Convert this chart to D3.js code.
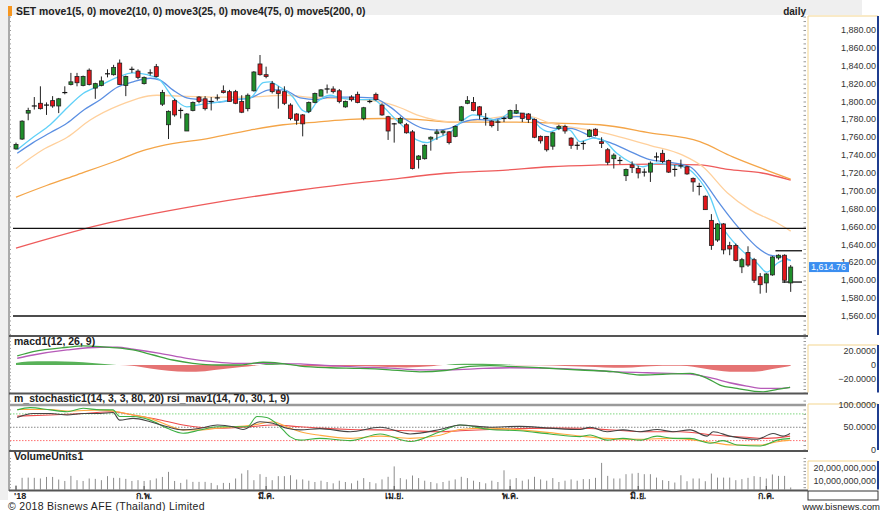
<!DOCTYPE html>
<html>
<head>
<meta charset="utf-8">
<script src="https://cdn.jsdelivr.net/npm/d3@7"></script>
<style>
    body { margin: 0; background: #fff; }
    svg { display: block; font-family: "Liberation Sans", Arial, sans-serif; }
</style>
</head>
<body>
<div id="chart"></div>
<script>
// daily candles, [open, high, low, close]
const ohlc = [
    [1747,1754,1746,1752],[1758,1779,1757,1778],[1787,1793,1779,1790],[1794,1805,1791,1795],[1798,1817,1791,1792],
    [1795,1799,1785,1796],[1801,1806,1793,1795],[1795,1804,1787,1803],[1809,1817,1808,1810],[1819,1832,1818,1822],
    [1828,1832,1817,1821],[1818,1829,1817,1828],[1835,1837,1818,1819],[1815,1821,1803,1820],[1818,1828,1817,1823],
    [1830,1836,1827,1831],[1830,1841,1829,1838],[1843,1847,1819,1819],[1818,1829,1806,1828],[1835,1839,1832,1836],
    [1834,1836,1825,1827],[1820,1828,1819,1827],[1831,1836,1829,1832],[1839,1842,1827,1828],[1797,1813,1795,1810],
    [1774,1790,1758,1789],[1801,1803,1783,1785],[1789,1793,1781,1790],[1767,1787,1767,1786],[1790,1800,1789,1799],
    [1805,1806,1798,1800],[1803,1806,1790,1792],[1799,1805,1790,1800],[1803,1808,1801,1804],[1812,1818,1809,1810],
    [1811,1813,1800,1800],[1811,1813,1797,1798],[1800,1807,1787,1788],[1792,1809,1789,1807],[1812,1834,1811,1833],
    [1842,1852,1829,1830],[1830,1839,1826,1828],[1820,1823,1809,1811],[1812,1817,1792,1809],[1811,1817,1796,1798],
    [1796,1798,1779,1781],[1786,1787,1774,1779],[1785,1786,1761,1775],[1789,1800,1787,1799],[1799,1810,1798,1809],
    [1806,1814,1806,1813],[1813,1819,1809,1814],[1814,1817,1809,1811],[1812,1814,1798,1800],[1794,1801,1793,1800],
    [1805,1807,1800,1802],[1808,1811,1798,1799],[1781,1794,1779,1793],[1799,1802,1798,1800],[1808,1810,1801,1802],
    [1796,1798,1784,1785],[1783,1784,1757,1767],[1774,1776,1754,1775],[1776,1783,1775,1781],[1774,1776,1764,1765],
    [1766,1768,1724,1725],[1735,1740,1725,1739],[1736,1752,1735,1751],[1758,1761,1745,1760],[1764,1769,1757,1766],
    [1765,1768,1762,1767],[1766,1767,1752,1754],[1761,1773,1760,1772],[1779,1795,1778,1794],[1798,1806,1797,1801],
    [1799,1805,1789,1790],[1794,1795,1780,1785],[1780,1787,1773,1781],[1778,1779,1771,1773],[1776,1780,1767,1777],
    [1780,1783,1777,1781],[1781,1791,1780,1790],[1787,1797,1786,1790],[1787,1787,1777,1781],[1786,1787,1776,1780],
    [1780,1781,1759,1760],[1761,1762,1753,1756],[1761,1761,1744,1746],[1750,1766,1746,1765],[1770,1774,1768,1772],
    [1772,1774,1764,1767],[1759,1760,1747,1751],[1750,1755,1746,1751],[1752,1756,1746,1753],[1761,1769,1760,1768],
    [1769,1770,1761,1762],[1755,1760,1748,1753],[1746,1748,1729,1732],[1736,1742,1725,1740],[1735,1738,1730,1734],
    [1717,1725,1711,1724],[1729,1733,1720,1726],[1725,1728,1714,1720],[1722,1725,1716,1721],[1721,1733,1710,1731],
    [1737,1743,1733,1738],[1742,1746,1731,1733],[1734,1735,1720,1721],[1723,1729,1716,1724],[1727,1735,1725,1728],
    [1727,1728,1718,1719],[1714,1715,1699,1710],[1704,1709,1695,1705],[1694,1695,1679,1679],[1667,1674,1634,1639],
    [1645,1664,1643,1663],[1663,1664,1629,1634],[1639,1643,1628,1635],[1639,1641,1621,1622],[1615,1625,1608,1623],
    [1631,1638,1615,1617],[1623,1625,1597,1600],[1604,1608,1585,1595],[1597,1608,1586,1607],[1606,1627,1605,1626],
    [1625,1629,1623,1628],[1628,1629,1597,1600],[1597,1617,1587,1614.76]
];

// volume, billions
const volume = [
    6.5,12.2,12.4,12.2,11.7,12.9,12.9,10.9,9.8,13.7,
    10.4,9.8,11.7,11.4,10.4,13.5,12.2,12.2,11.4,9.8,
    10.4,9.8,10.4,11.7,12.9,16.8,9.8,8.3,10.9,9.1,
    9.1,9.1,8.3,6.5,8.3,8.3,11.7,15.5,18.1,10.4,
    15,12.9,10.4,13.5,13.5,14.2,10.9,11,10,9,
    10,9,8,10,9,8,10,12,9,8,
    11,13,21,12,11,14,12,10,9,8,
    9,10,11,13,12,10,9,8,10,9,
    18,11,12,10,11,13,11,10,12,9,
    10,11,10,11.2,11.2,12.2,23.7,13.7,11.7,11.7,
    15,15.5,16,15,15,12.4,10.4,9.8,8.6,14.2,
    9.6,11.7,11.7,9.6,15.5,12.4,12.4,12.4,10.4,11.2,
    12.2,13.5,12.9,11.7,14.8,13.7,13.7,4.8
];

// moving averages, [day index, value]
const ma5 = [[0.2,1746],[2.8,1760],[5.6,1774],[8.4,1793],[11,1809],[13.8,1818],[16.6,1827],[19.2,1832],[21.5,1830],[23.6,1824],[25.7,1805],[28,1794],[29.7,1796],[33,1799],[35.6,1802],[38.4,1804],[40.5,1821],[41.6,1822],[43.3,1816],[45.4,1805],[47,1790],[47.9,1788],[49.3,1799],[51.5,1807],[53.1,1804],[55.9,1802],[58.5,1802],[60.2,1794],[61.8,1783],[64.1,1768],[65.7,1757],[67.4,1754],[69,1759],[71.1,1765],[73.3,1779],[74.9,1785],[76.6,1783],[78.9,1779],[81,1787],[82.6,1787],[84.3,1783],[85.9,1771],[87.5,1766],[89.2,1770],[90.8,1768],[92.5,1755],[94.6,1759],[96.2,1757],[98.5,1742],[100.7,1732],[102.8,1727],[105.1,1731],[107.2,1729],[109.3,1727],[111.6,1716],[113.8,1693],[115.4,1664],[117,1648],[119.2,1632],[121.5,1619],[123.1,1609],[124.8,1619],[126.4,1623],[127,1622]];
const ma10 = [[0.2,1742],[2.8,1754],[5.6,1765],[8.4,1776],[11,1790],[13.8,1802],[16.6,1816],[19.2,1822],[22,1826],[23.6,1824],[25.7,1813],[28,1804],[30.2,1802],[33,1799],[35.6,1802],[38.4,1804],[41.6,1813],[43.8,1813],[46.6,1804],[49.3,1802],[51.5,1805],[54.8,1805],[58.5,1804],[61.3,1794],[64.1,1779],[66.7,1770],[69,1768],[71.1,1770],[73.3,1777],[75.6,1780],[77.7,1779],[79.8,1782],[82.1,1783],[84.3,1782],[86.4,1774],[88.5,1770],[90.8,1770],[94.6,1760],[97.4,1754],[100.7,1744],[103.9,1735],[107.2,1732],[110.5,1727],[112.6,1712],[114.9,1690],[117,1671],[119.2,1653],[121.5,1637],[123.6,1628],[125.7,1626],[127,1622]];
const ma25 = [[0,1725],[4.4,1746],[8.4,1760],[12.1,1779],[17,1796],[23.1,1807],[27,1806],[33,1805],[38.4,1805],[43.8,1807],[49.3,1804],[54.8,1803],[60.2,1799],[63,1793],[65.7,1785],[69,1779],[72.3,1777],[76.6,1780],[81,1784],[84.3,1783],[87.5,1776],[95.7,1766],[103.9,1751],[109.3,1740],[112.6,1727],[116.6,1698],[120.3,1679],[124.8,1664],[127,1655]];
const ma75 = [[0,1693],[5,1706],[10,1718],[16.6,1734],[20.8,1745],[23.6,1750],[31.8,1759],[38.4,1768],[43.8,1774],[49.3,1777],[54.8,1780],[60.2,1781],[65.7,1780],[71.1,1777],[76.6,1777],[82.1,1777],[87.5,1776],[95.7,1774],[103.9,1765],[112.1,1755],[117.5,1738],[123.1,1723],[127,1713]];
const ma200 = [[0,1636],[13.8,1662],[30.2,1684],[46.6,1701],[60.2,1712],[71.1,1720],[79.8,1723],[87.5,1727],[95.7,1729],[103.9,1730],[112.1,1729],[116.7,1724],[122.3,1720],[127,1712]];

// macd(12, 26, 9)
const macdLine = [[0.2,13.2],[2.8,19.5],[8.4,25.9],[11,27.8],[13.8,26.8],[19.2,22],[22.5,14.6],[25.7,7.3],[29,2.5],[33,0],[36.7,0],[40.5,4],[43.3,2.5],[46.6,-1.5],[51.5,-4],[56.4,-5],[61.3,-7],[66.2,-10],[70.3,-8],[74.4,-2],[77.7,-1],[81,-2],[85.9,-4],[92.5,-7.3],[97.9,-9.8],[102.3,-14.6],[106,-13.5],[110.5,-12.2],[113.3,-19.5],[115.4,-29.3],[118.2,-34.1],[122.5,-39.1],[124.8,-35.6],[126.9,-32.7]];
const macdSignal = [[0.2,9.8],[2.8,14.6],[8.4,22],[13.8,25.9],[16.6,25.9],[19.2,23],[23.6,17.1],[28,9.8],[32.3,4.8],[35.6,2.5],[42.1,2.5],[46.6,1.5],[51.5,-1],[56.4,-3],[61.3,-4.5],[66.2,-7],[71.1,-7],[76.6,-5],[81,-4],[86,-4.5],[92.5,-6.3],[97.9,-9.8],[103.5,-11.3],[110.5,-13.2],[114.3,-19.5],[117,-25.9],[119.8,-30.7],[122.5,-34.1],[125.2,-34.1],[126.9,-32.7]];
const macdHist = [[0,3],[2,5],[5,5.5],[8,5],[11,4],[14,2],[16,0.5],[17,0],[19,-1],[22,-5],[25,-8.5],[28,-10],[31,-9],[34,-6],[37,-3],[39,-1],[40,0],[41,1.5],[43,1],[45,0],[46,-1],[48,-2],[52,-2.5],[56,-1.5],[60,-2.5],[64,-3.5],[68,-2],[70,0],[72,1.5],[75,2],[78,1.5],[81,0.5],[83,-0.5],[86,-0.5],[90,-1.5],[95,-3],[98,-4],[101,-3.5],[104,-2],[106,-1],[108,-1],[110,-1.5],[112,-4],[114,-7],[116,-9],[118,-10],[120,-10],[122,-9],[124,-6],[126,-3],[127,-1]];

// stochastic / rsi
const stochK = [[0.2,72],[2.8,81],[5.6,81],[8.4,77.5],[11,81],[13.8,81],[15.9,83],[17,66],[19.2,70],[22,62.5],[24.8,51],[27.4,44],[30.2,47.6],[33,55],[35.6,51],[37.2,45],[40,62.5],[42.1,59],[44.4,47.6],[46.6,44],[49.8,47],[54.8,40],[59.7,50],[64.6,35],[69.5,45],[72.8,55],[77.7,50],[82.6,52],[87.5,48],[92.5,45],[94.1,50],[96.9,40],[99.5,44],[102.3,40],[105.1,45],[107.7,40],[110.5,44],[113.3,30],[114.3,40],[117,30],[121.5,23],[124.1,36],[125.7,30],[126.9,36]];
const stochD = [[0.2,89],[2.3,94],[5.6,89],[8.4,85],[11,92.6],[13.8,89],[15.9,89],[17,74],[19.2,74],[22,66],[24.8,47.6],[27.4,36.4],[30.2,43.8],[33,51],[35.6,51],[37.9,51],[39.5,74],[41.1,72],[43.3,51],[44.9,29],[46.6,21],[49.8,25],[54.8,20],[59.7,35],[64.6,18],[69.5,40],[72.8,55],[77.7,45],[82.6,42],[87.5,35],[92.5,29],[94.1,32.6],[96.9,21],[99.5,25],[102.3,21],[105.1,30],[107.7,25],[110.5,25],[113.8,14],[115.9,20],[118.2,10],[122,8],[124.8,21],[126.9,25]];
const stochSlow = [[0.2,90],[5.6,90],[8.4,86.5],[13.8,89],[16.6,85],[19.2,77.5],[22,70],[24.8,55],[27.4,44],[30.2,44],[33,47.6],[35.6,51],[38.9,55],[42.1,62.5],[44.4,51],[46.6,40],[49.8,32],[54.8,25],[59.7,30],[64.6,25],[69.5,32],[72.8,45],[77.7,48],[82.6,44],[87.5,38],[92.5,30],[96.9,25],[102.3,23],[107.7,25],[113.3,17.5],[117.5,10],[122,10],[124.8,17.5],[126.9,21]];
const rsi = [[0.2,75],[5.6,77.5],[11,81],[15.9,85],[19.2,77.5],[23.1,68],[27.4,55],[33,47.6],[38.4,51],[42.1,55],[46.6,51],[49.8,48],[54.8,45],[59.7,44],[64.6,42],[69.5,40],[72.8,42],[77.7,45],[82.6,47],[87.5,48],[92.5,47.6],[97.9,43.8],[103.4,40],[108.9,40],[114.3,32.6],[119.8,27.4],[123.1,25],[126.9,30]];

const monthIdx = [0, 21, 41, 62, 81, 102, 123];
const monthLabels = ["'18", "ก.พ.", "มี.ค.", "เม.ย.", "พ.ค.", "มิ.ย.", "ก.ค."];
const levels = [1658, 1560];
const shortLevels = [[124.5, 1633], [125.6, 1598]];
const lastPrice = 1614.76;

const W = 889, H = 511;
const plotL = 9, plotR = 806, axL = 808, axR = 878;

const svg = d3.select("#chart")
    .append("svg")
    .attr("width", W)
    .attr("height", H);

svg.append("rect").attr("width", W).attr("height", H).attr("fill", "#fff");
svg.append("rect").attr("width", 862).attr("height", 15).attr("fill", "#efefef");
svg.append("rect").attr("width", 8).attr("height", 500).attr("fill", "#efefef");

const x = d3.scaleLinear().domain([0, 127]).range([16, 790.7]);
const yP = d3.scaleLinear().domain([1560, 1880]).range([316, 30]);
const yM = d3.scaleLinear().domain([-20, 20]).range([378.7, 351.3]);
const yS = d3.scaleLinear().domain([0, 100]).range([449.5, 405]);
const yV = d3.scaleLinear().domain([0, 20]).range([493.7, 467.7]);

const panels = [
    {id: "p0", top: 16, bottom: 335, boxTop: 16},
    {id: "p1", top: 337, bottom: 392.5, boxTop: 345},
    {id: "p2", top: 394.5, bottom: 450, boxTop: 404},
    {id: "p3", top: 452, bottom: 489.5, boxTop: 461}
];

const defs = svg.append("defs");
panels.forEach(p => {
    defs.append("clipPath").attr("id", p.id)
        .append("rect")
        .attr("x", plotL + 1).attr("y", p.top)
        .attr("width", plotR - plotL - 1).attr("height", p.bottom - p.top);
});

// right axis boxes
panels.forEach(p => {
    svg.append("line").attr("x1", axL).attr("x2", axR).attr("y1", p.boxTop).attr("y2", p.boxTop)
        .attr("stroke", "#f3d58f");
    svg.append("line").attr("x1", axL).attr("x2", axL).attr("y1", p.boxTop).attr("y2", p.bottom)
        .attr("stroke", "#f3d58f");
    svg.append("line").attr("x1", axR).attr("x2", axR).attr("y1", p.boxTop).attr("y2", p.bottom)
        .attr("stroke", "#1f3d8f").attr("stroke-width", 2);
});
svg.append("rect").attr("x", axL).attr("y", 491).attr("width", axR - axL).attr("height", 9)
    .attr("fill", "none").attr("stroke", "#333").attr("stroke-width", 1);

// minor ticks on both sides of every panel
function minorTicks(scale, values, clip) {
    const g = svg.append("g").attr("clip-path", `url(#${clip})`);
    g.append("g").attr("transform", `translate(${plotL},0)`)
        .call(d3.axisRight(scale).tickValues(values).tickSize(2).tickFormat(""))
        .call(a => a.select(".domain").remove())
        .selectAll("line").attr("stroke", "#999");
    g.append("g").attr("transform", `translate(${plotR},0)`)
        .call(d3.axisLeft(scale).tickValues(values).tickSize(2.5).tickFormat(""))
        .call(a => a.select(".domain").remove())
        .selectAll("line").attr("stroke", "#999");
}
minorTicks(yP, d3.range(1530, 1900, 5), "p0");
minorTicks(yM, d3.range(-50, 51, 5), "p1");
minorTicks(yS, d3.range(-10, 111, 10), "p2");
minorTicks(yV, d3.range(0, 30, 2.5), "p3");

// right labels
function rightLabels(scale, values, fmt) {
    svg.append("g").selectAll("text")
        .data(values)
        .enter().append("text")
        .attr("x", axR - 2)
        .attr("y", d => scale(d) + 3)
        .attr("text-anchor", "end")
        .attr("font-size", 9)
        .attr("fill", "#333")
        .text(fmt);
}
rightLabels(yP, d3.range(1560, 1881, 20), d3.format(",.2f"));
rightLabels(yM, [20, 0, -20], d => d === 0 ? "0" : d3.format(".4f")(d));
rightLabels(yS, [100, 50, 0], d => d === 0 ? "0" : d3.format(".4f")(d));
rightLabels(yV, [20, 10], d => d3.format(",")(d * 1e9));

// ----- price panel -----
const main = svg.append("g").attr("clip-path", "url(#p0)");

const maLine = d3.line()
    .x(d => x(d[0]))
    .y(d => yP(d[1]))
    .curve(d3.curveMonotoneX);

[[ma200, "#ee5b5b"], [ma75, "#f4a548"], [ma25, "#ffd09c"], [ma10, "#5b8fe2"], [ma5, "#5fd0f8"]]
    .forEach(([data, color]) => {
        main.append("path")
            .datum(data)
            .attr("fill", "none")
            .attr("stroke", color)
            .attr("stroke-width", 1.3)
            .attr("d", maLine);
    });

main.selectAll(".level")
    .data(levels)
    .enter().append("line")
    .attr("class", "level")
    .attr("x1", plotL + 4).attr("x2", plotR)
    .attr("y1", d => yP(d)).attr("y2", d => yP(d))
    .attr("stroke", "#111").attr("stroke-width", 1.3);

main.selectAll(".slevel")
    .data(shortLevels)
    .enter().append("line")
    .attr("class", "slevel")
    .attr("x1", d => x(d[0])).attr("x2", 802)
    .attr("y1", d => yP(d[1])).attr("y2", d => yP(d[1]))
    .attr("stroke", "#111").attr("stroke-width", 1.3);

const candle = main.selectAll(".candle")
    .data(ohlc)
    .enter().append("g")
    .attr("class", "candle");

candle.append("line")
    .attr("x1", (d, i) => x(i)).attr("x2", (d, i) => x(i))
    .attr("y1", d => yP(d[1])).attr("y2", d => yP(d[2]))
    .attr("stroke", "#222").attr("stroke-width", 1);

candle.filter(d => Math.abs(d[3] - d[0]) > 1)
    .append("rect")
    .attr("x", d => x(ohlc.indexOf(d)) - 2)
    .attr("y", d => yP(Math.max(d[0], d[3])))
    .attr("width", 4)
    .attr("height", d => Math.abs(yP(d[0]) - yP(d[3])))
    .attr("fill", d => d[3] > d[0] ? "#1f8f2a" : "#e3161b")
    .attr("stroke", "#222").attr("stroke-width", 0.8);

candle.filter(d => Math.abs(d[3] - d[0]) <= 1)
    .append("line")
    .attr("x1", d => x(ohlc.indexOf(d)) - 2.5).attr("x2", d => x(ohlc.indexOf(d)) + 2.5)
    .attr("y1", d => yP(d[3])).attr("y2", d => yP(d[3]))
    .attr("stroke", "#111").attr("stroke-width", 1.2);

// last price tag
svg.append("rect")
    .attr("x", axL + 1).attr("y", yP(lastPrice) - 5)
    .attr("width", 40).attr("height", 10)
    .attr("fill", "#3b8ef0");
svg.append("text")
    .attr("x", axL + 3).attr("y", yP(lastPrice) + 3)
    .attr("font-size", 9).attr("fill", "#fff")
    .text(d3.format(",.2f")(lastPrice));

// ----- macd panel -----
const macdG = svg.append("g").attr("clip-path", "url(#p1)");

macdG.append("path")
    .datum(macdHist)
    .attr("fill", "#e57373")
    .attr("d", d3.area().x(d => x(d[0])).y0(yM(0)).y1(d => yM(Math.min(d[1], 0))).curve(d3.curveMonotoneX));
macdG.append("path")
    .datum(macdHist)
    .attr("fill", "#58b158")
    .attr("d", d3.area().x(d => x(d[0])).y0(yM(0)).y1(d => yM(Math.max(d[1], 0))).curve(d3.curveMonotoneX));

const macdPath = d3.line().x(d => x(d[0])).y(d => yM(d[1])).curve(d3.curveMonotoneX);
macdG.append("path").datum(macdSignal)
    .attr("fill", "none").attr("stroke", "#b65ab8").attr("stroke-width", 1.3).attr("d", macdPath);
macdG.append("path").datum(macdLine)
    .attr("fill", "none").attr("stroke", "#3fa33f").attr("stroke-width", 1.3).attr("d", macdPath);

// ----- stochastic panel -----
const stG = svg.append("g").attr("clip-path", "url(#p2)");

stG.append("line")
    .attr("x1", plotL + 1).attr("x2", plotR)
    .attr("y1", yS(100)).attr("y2", yS(100))
    .attr("stroke", "#9a9a9a").attr("stroke-width", 2.5);

[[80, "#7ed67e"], [50, "#888"], [20, "#ff7070"]].forEach(([v, c]) => {
    stG.append("line")
        .attr("x1", plotL + 1).attr("x2", plotR)
        .attr("y1", yS(v)).attr("y2", yS(v))
        .attr("stroke", c).attr("stroke-width", 1)
        .attr("stroke-dasharray", "1.5,1.5");
});

const stPath = d3.line().x(d => x(d[0])).y(d => yS(d[1])).curve(d3.curveMonotoneX);
[[rsi, "#ee4b4b"], [stochSlow, "#ffa940"], [stochD, "#3cb043"], [stochK, "#444"]].forEach(([data, c]) => {
    stG.append("path").datum(data)
        .attr("fill", "none").attr("stroke", c).attr("stroke-width", 1.1).attr("d", stPath);
});

// ----- volume panel -----
const volG = svg.append("g").attr("clip-path", "url(#p3)");
volG.selectAll(".vol")
    .data(volume)
    .enter().append("line")
    .attr("class", "vol")
    .attr("x1", (d, i) => x(i)).attr("x2", (d, i) => x(i))
    .attr("y1", yV(0)).attr("y2", d => yV(d))
    .attr("stroke", "#8c8c8c").attr("stroke-width", 1);

// panel frames
svg.append("line").attr("x1", plotL).attr("x2", plotL).attr("y1", 16).attr("y2", 491)
    .attr("stroke", "#555").attr("stroke-width", 1);
[336, 393.5, 451, 490.5].forEach(y => {
    svg.append("line").attr("x1", plotL).attr("x2", axL).attr("y1", y).attr("y2", y)
        .attr("stroke", "#555").attr("stroke-width", 2);
});

// month axis
svg.selectAll(".mtick")
    .data(monthIdx)
    .enter().append("line")
    .attr("class", "mtick")
    .attr("x1", d => x(d)).attr("x2", d => x(d))
    .attr("y1", 486).attr("y2", 490)
    .attr("stroke", "#555");
svg.selectAll(".mlabel")
    .data(monthIdx)
    .enter().append("text")
    .attr("class", "mlabel")
    .attr("x", (d, i) => i === 0 ? x(d) - 2 : x(d))
    .attr("y", 499)
    .attr("text-anchor", (d, i) => i === 0 ? "start" : "middle")
    .attr("font-size", 9).attr("font-weight", "bold").attr("fill", "#222")
    .text((d, i) => monthLabels[i]);

// titles
svg.append("rect").attr("x", 8).attr("y", 6).attr("width", 4).attr("height", 10).attr("fill", "#f7961e");
svg.append("text").attr("x", 16).attr("y", 14.5)
    .attr("font-size", 10.4).attr("font-weight", "bold").attr("fill", "#222")
    .text("SET move1(5, 0) move2(10, 0) move3(25, 0) move4(75, 0) move5(200, 0)");
svg.append("text").attr("x", 806).attr("y", 14.5).attr("text-anchor", "end")
    .attr("font-size", 10).attr("font-weight", "bold").attr("fill", "#222")
    .text("daily");
svg.append("text").attr("x", 14).attr("y", 345)
    .attr("font-size", 10.5).attr("font-weight", "bold").attr("fill", "#222")
    .text("macd1(12, 26, 9)");
svg.append("text").attr("x", 14).attr("y", 402)
    .attr("font-size", 10.5).attr("font-weight", "bold").attr("fill", "#222")
    .text("m_stochastic1(14, 3, 3, 80, 20) rsi_mav1(14, 70, 30, 1, 9)");
svg.append("text").attr("x", 14).attr("y", 459.5)
    .attr("font-size", 10.5).attr("font-weight", "bold").attr("fill", "#222")
    .text("VolumeUnits1");

// footer
svg.append("text").attr("x", 8).attr("y", 509.5)
    .attr("font-size", 10.5).attr("fill", "#222")
    .attr("letter-spacing", 0.3)
    .text("© 2018 Bisnews AFE (Thailand) Limited");
svg.append("text").attr("x", 880).attr("y", 509.5).attr("text-anchor", "end")
    .attr("font-size", 9.5).attr("fill", "#222")
    .text("www.bisnews.com");
</script>
</body>
</html>
